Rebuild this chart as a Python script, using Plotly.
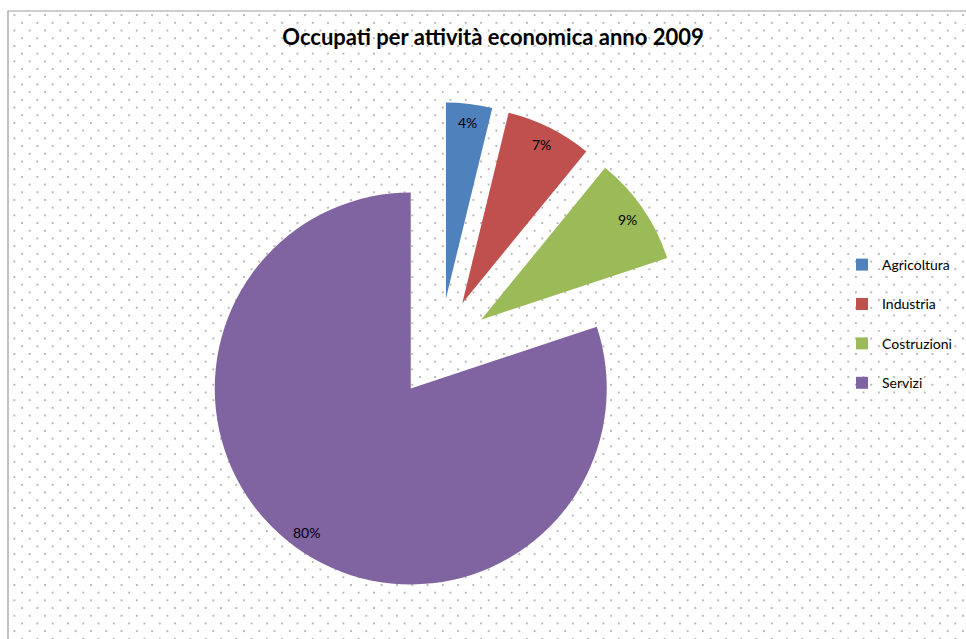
import base64
import math
import plotly.graph_objects as go

W, H = 966, 639

categories = ["Agricoltura", "Industria", "Costruzioni", "Servizi"]
values = [3.8, 7.1, 9.0, 80.1]
colors = ["#4F81BD", "#C0504D", "#9BBB59", "#8064A2"]
title_text = "Occupati per attività economica anno 2009"

# dotted background pattern (Excel style)
bx0, by0 = 8, 11
bw, bh = W - bx0, H - by0
svg = (
    f'<svg xmlns="http://www.w3.org/2000/svg" width="{bw}" height="{bh}" viewBox="0 0 {bw} {bh}">'
    '<defs><pattern id="p" x="2.6" y="0.3" width="15.3" height="15.4" patternUnits="userSpaceOnUse">'
    '<circle cx="3.8" cy="3.8" r="0.9" fill="#9a9a9a"/>'
    '<circle cx="11.45" cy="11.5" r="0.9" fill="#9a9a9a"/>'
    '</pattern></defs>'
    f'<rect width="{bw}" height="{bh}" fill="url(#p)"/></svg>'
)
src = "data:image/svg+xml;base64," + base64.b64encode(svg.encode()).decode()

pull = 0.255
cx, cy, r = 440, 348, 196
side = 2 * r * (1 + pull)
dom_x = [(cx - side / 2) / W, (cx + side / 2) / W]
dom_y = [1 - (cy + side / 2) / H, 1 - (cy - side / 2) / H]

# percentage labels placed near the outer edge of each slice (Excel "best fit")
total = sum(values)
annotations = []
cum = 0.0
for v in values:
    theta = 2 * math.pi * (cum + v / 2) / total
    cum += v
    rad = (pull + 0.905) * r
    px = cx + rad * math.sin(theta)
    py = cy - rad * math.cos(theta)
    annotations.append(
        dict(
            x=px / W,
            y=1 - py / H,
            xref="paper",
            yref="paper",
            text=f"{round(100 * v / total)}%",
            showarrow=False,
            xanchor="center",
            yanchor="middle",
            font=dict(family="Lato", size=14, color="#000000"),
        )
    )

fig = go.Figure(
    go.Pie(
        labels=[c + "<br> " for c in categories],
        values=values,
        sort=False,
        direction="clockwise",
        rotation=0,
        pull=[pull] * 4,
        marker=dict(colors=colors, line=dict(width=0)),
        textinfo="none",
        hoverinfo="skip",
        domain=dict(x=dom_x, y=dom_y),
    )
)

fig.update_layout(
    width=W,
    height=H,
    margin=dict(l=0, r=0, t=0, b=0, autoexpand=False),
    paper_bgcolor="#ffffff",
    plot_bgcolor="#ffffff",
    title=dict(
        text=f"<b>{title_text}</b>",
        x=493 / W,
        xanchor="center",
        y=1 - 37 / H,
        yanchor="middle",
        font=dict(family="Lato", size=22, color="#000000"),
    ),
    legend=dict(
        x=842 / W,
        xanchor="left",
        y=1 - 249 / H,
        yanchor="top",
        valign="top",
        font=dict(family="Lato", size=14, color="#000000"),
        bgcolor="rgba(0,0,0,0)",
        itemclick=False,
    ),
    annotations=annotations,
    images=[
        dict(
            source=src,
            xref="paper",
            yref="paper",
            x=bx0 / W,
            y=1 - by0 / H,
            sizex=bw / W,
            sizey=bh / H,
            xanchor="left",
            yanchor="top",
            sizing="stretch",
            layer="below",
        )
    ],
    shapes=[
        dict(
            type="rect",
            xref="paper",
            yref="paper",
            x0=bx0 / W,
            y0=-0.05,
            x1=1.05,
            y1=1 - by0 / H,
            line=dict(color="#9b9b9b", width=1.2),
            fillcolor="rgba(0,0,0,0)",
            layer="below",
        )
    ],
)

fig.write_html("out.html")
